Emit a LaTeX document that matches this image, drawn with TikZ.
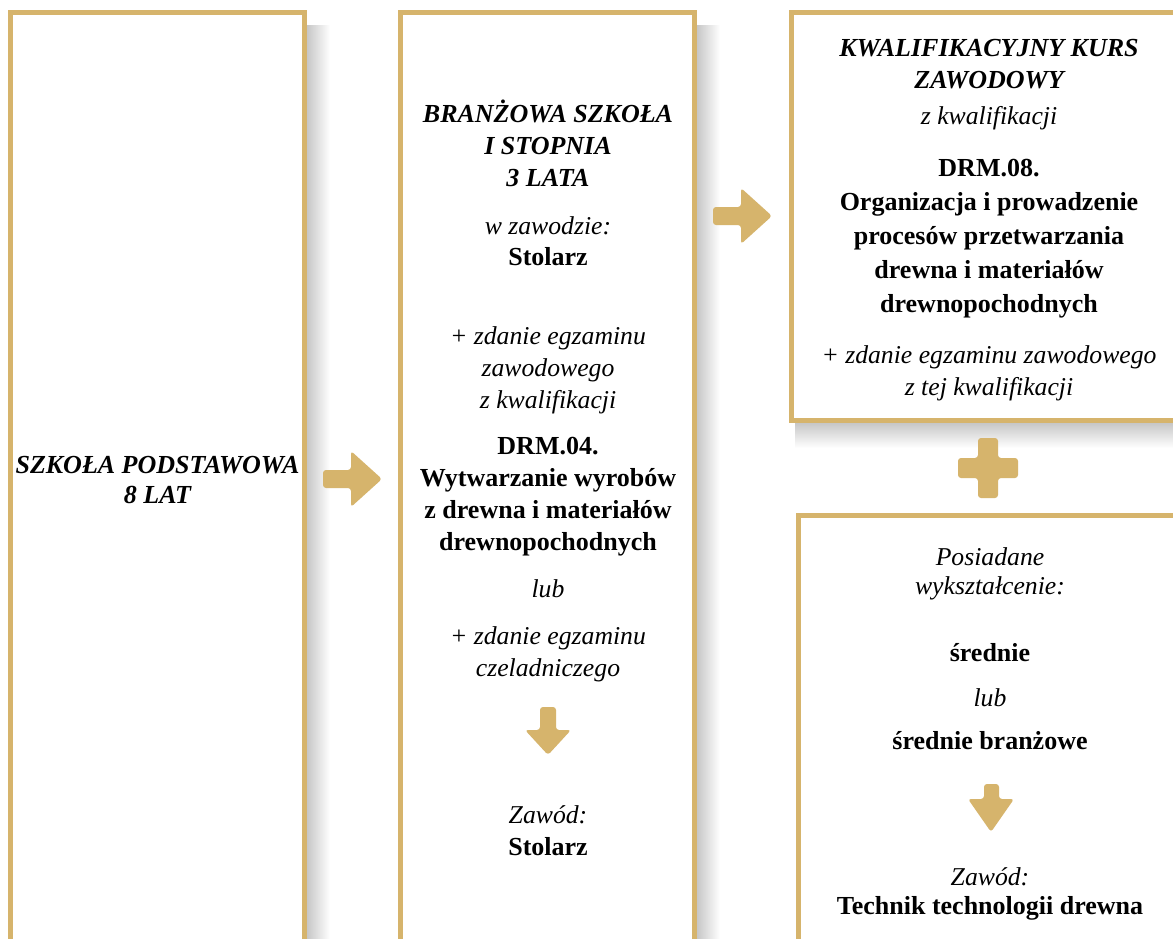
\documentclass[tikz,border=0pt]{standalone}
\usepackage{fontspec}
\setmainfont{Liberation Serif}

\definecolor{gold}{RGB}{214,180,108}

\tikzset{
  frame/.style = {draw = gold, line width = 5pt},
  blob/.style = {fill = gold, rounded corners = 3pt},
  txt/.style = {align = center, anchor = base, inner sep = 0pt,
    font = \fontsize{25.7}{32}\selectfont},
  ttl/.style = {txt, font = \fontsize{26}{32}\selectfont\bfseries\itshape},
  bld/.style = {txt, font = \fontsize{26}{32}\selectfont\bfseries},
  ital/.style = {txt, font = \fontsize{25.7}{32}\selectfont\itshape},
}

\begin{document}
\begin{tikzpicture}[x = 1pt, y = -1pt]

    \useasboundingbox (0,0) rectangle (1173,938);
    \fill[white] (0,0) rectangle (1173,938);
    \clip (0,0) rectangle (1173,938);

    % shadows
    \shade[left color = black!22, right color = white] (307,25) rectangle (330,938);
    \shade[left color = black!22, right color = white] (697,25) rectangle (720,938);
    \shade[top color = black!22, bottom color = white] (795,423) rectangle (1173,448);

    % frames
    \draw[frame] (10.5,12.5) rectangle (304.5,960);
    \draw[frame] (400.5,12.5) rectangle (694.5,960);
    \draw[frame] (791.5,12.5) rectangle (1190,420.5);
    \draw[frame] (798,515.5) rectangle (1190,960);

    % school (base = last line)
    \node[ttl, font = \fontsize{26}{30}\selectfont\bfseries\itshape] (sp) at (157.5,503) {SZKOŁA PODSTAWOWA\\8 LAT};

    % branch school
    \node[ttl] (bsTitle) at (548,186) {BRANŻOWA SZKOŁA\\I STOPNIA\\3 LATA};
    \node[txt, font = \fontsize{25.7}{31}\selectfont] (bsJob) at (548,265) {\textit{w zawodzie:}\\\textbf{\fontsize{26}{31}\selectfont Stolarz}};
    \node[ital] (bsExam) at (548,408) {+ zdanie egzaminu\\zawodowego\\z kwalifikacji};
    \node[bld] (bsQual) at (548,550) {DRM.04.\\Wytwarzanie wyrobów\\z drewna i materiałów\\drewnopochodnych};
    \node[ital] (bsOr) at (548,597) {lub};
    \node[ital] (bsExam2) at (548,676) {+ zdanie egzaminu\\czeladniczego};
    \node[txt] (bsEnd) at (548,855) {\textit{Zawód:}\\\textbf{\fontsize{26}{32}\selectfont Stolarz}};

    % course
    \node[ttl] (kkzTitle) at (989,88) {KWALIFIKACYJNY KURS\\ZAWODOWY};
    \node[ital] (kkzFrom) at (989,124) {z kwalifikacji};
    \node[bld, font = \fontsize{26}{34}\selectfont\bfseries] (kkzQual) at (989,312)
      {DRM.08.\\Organizacja i prowadzenie\\procesów przetwarzania\\drewna i materiałów\\drewnopochodnych};
    \node[ital] (kkzExam) at (989,395) {+ zdanie egzaminu zawodowego\\z tej kwalifikacji};

    % education
    \node[ital, font = \fontsize{25.7}{29}\selectfont\itshape] (edHave) at (990,594) {Posiadane\\wykształcenie:};
    \node[bld] (edMid) at (990,661) {średnie};
    \node[ital] (edOr) at (990,706) {lub};
    \node[bld] (edMid2) at (990,749) {średnie branżowe};
    \node[txt, font = \fontsize{25.7}{29}\selectfont] (edEnd) at (990,914)
      {\textit{Zawód:}\\\textbf{\fontsize{26}{29}\selectfont Technik technologii drewna}};

    % arrows
    \fill[blob] (382,479) -- (351,451) -- (351,470) -- (323,470) -- (323,488)
      -- (351,488) -- (351,507) -- cycle;
    \fill[blob] (772,216) -- (741,188) -- (741,207) -- (713,207) -- (713,225)
      -- (741,225) -- (741,244) -- cycle;
    \fill[blob] (548,755) -- (525,730) -- (540,730) -- (540,707) -- (556,707)
      -- (556,730) -- (571,730) -- cycle;
    \fill[blob] (991,832) -- (968,799) -- (984,799) -- (984,784) -- (999,784)
      -- (999,799) -- (1014,799) -- cycle;

    % plus
    \fill[blob] (978,438) -- (998,438) -- (998,458) -- (1018,458) -- (1018,478)
      -- (998,478) -- (998,498) -- (978,498) -- (978,478) -- (958,478)
      -- (958,458) -- (978,458) -- cycle;

\end{tikzpicture}
\end{document}
